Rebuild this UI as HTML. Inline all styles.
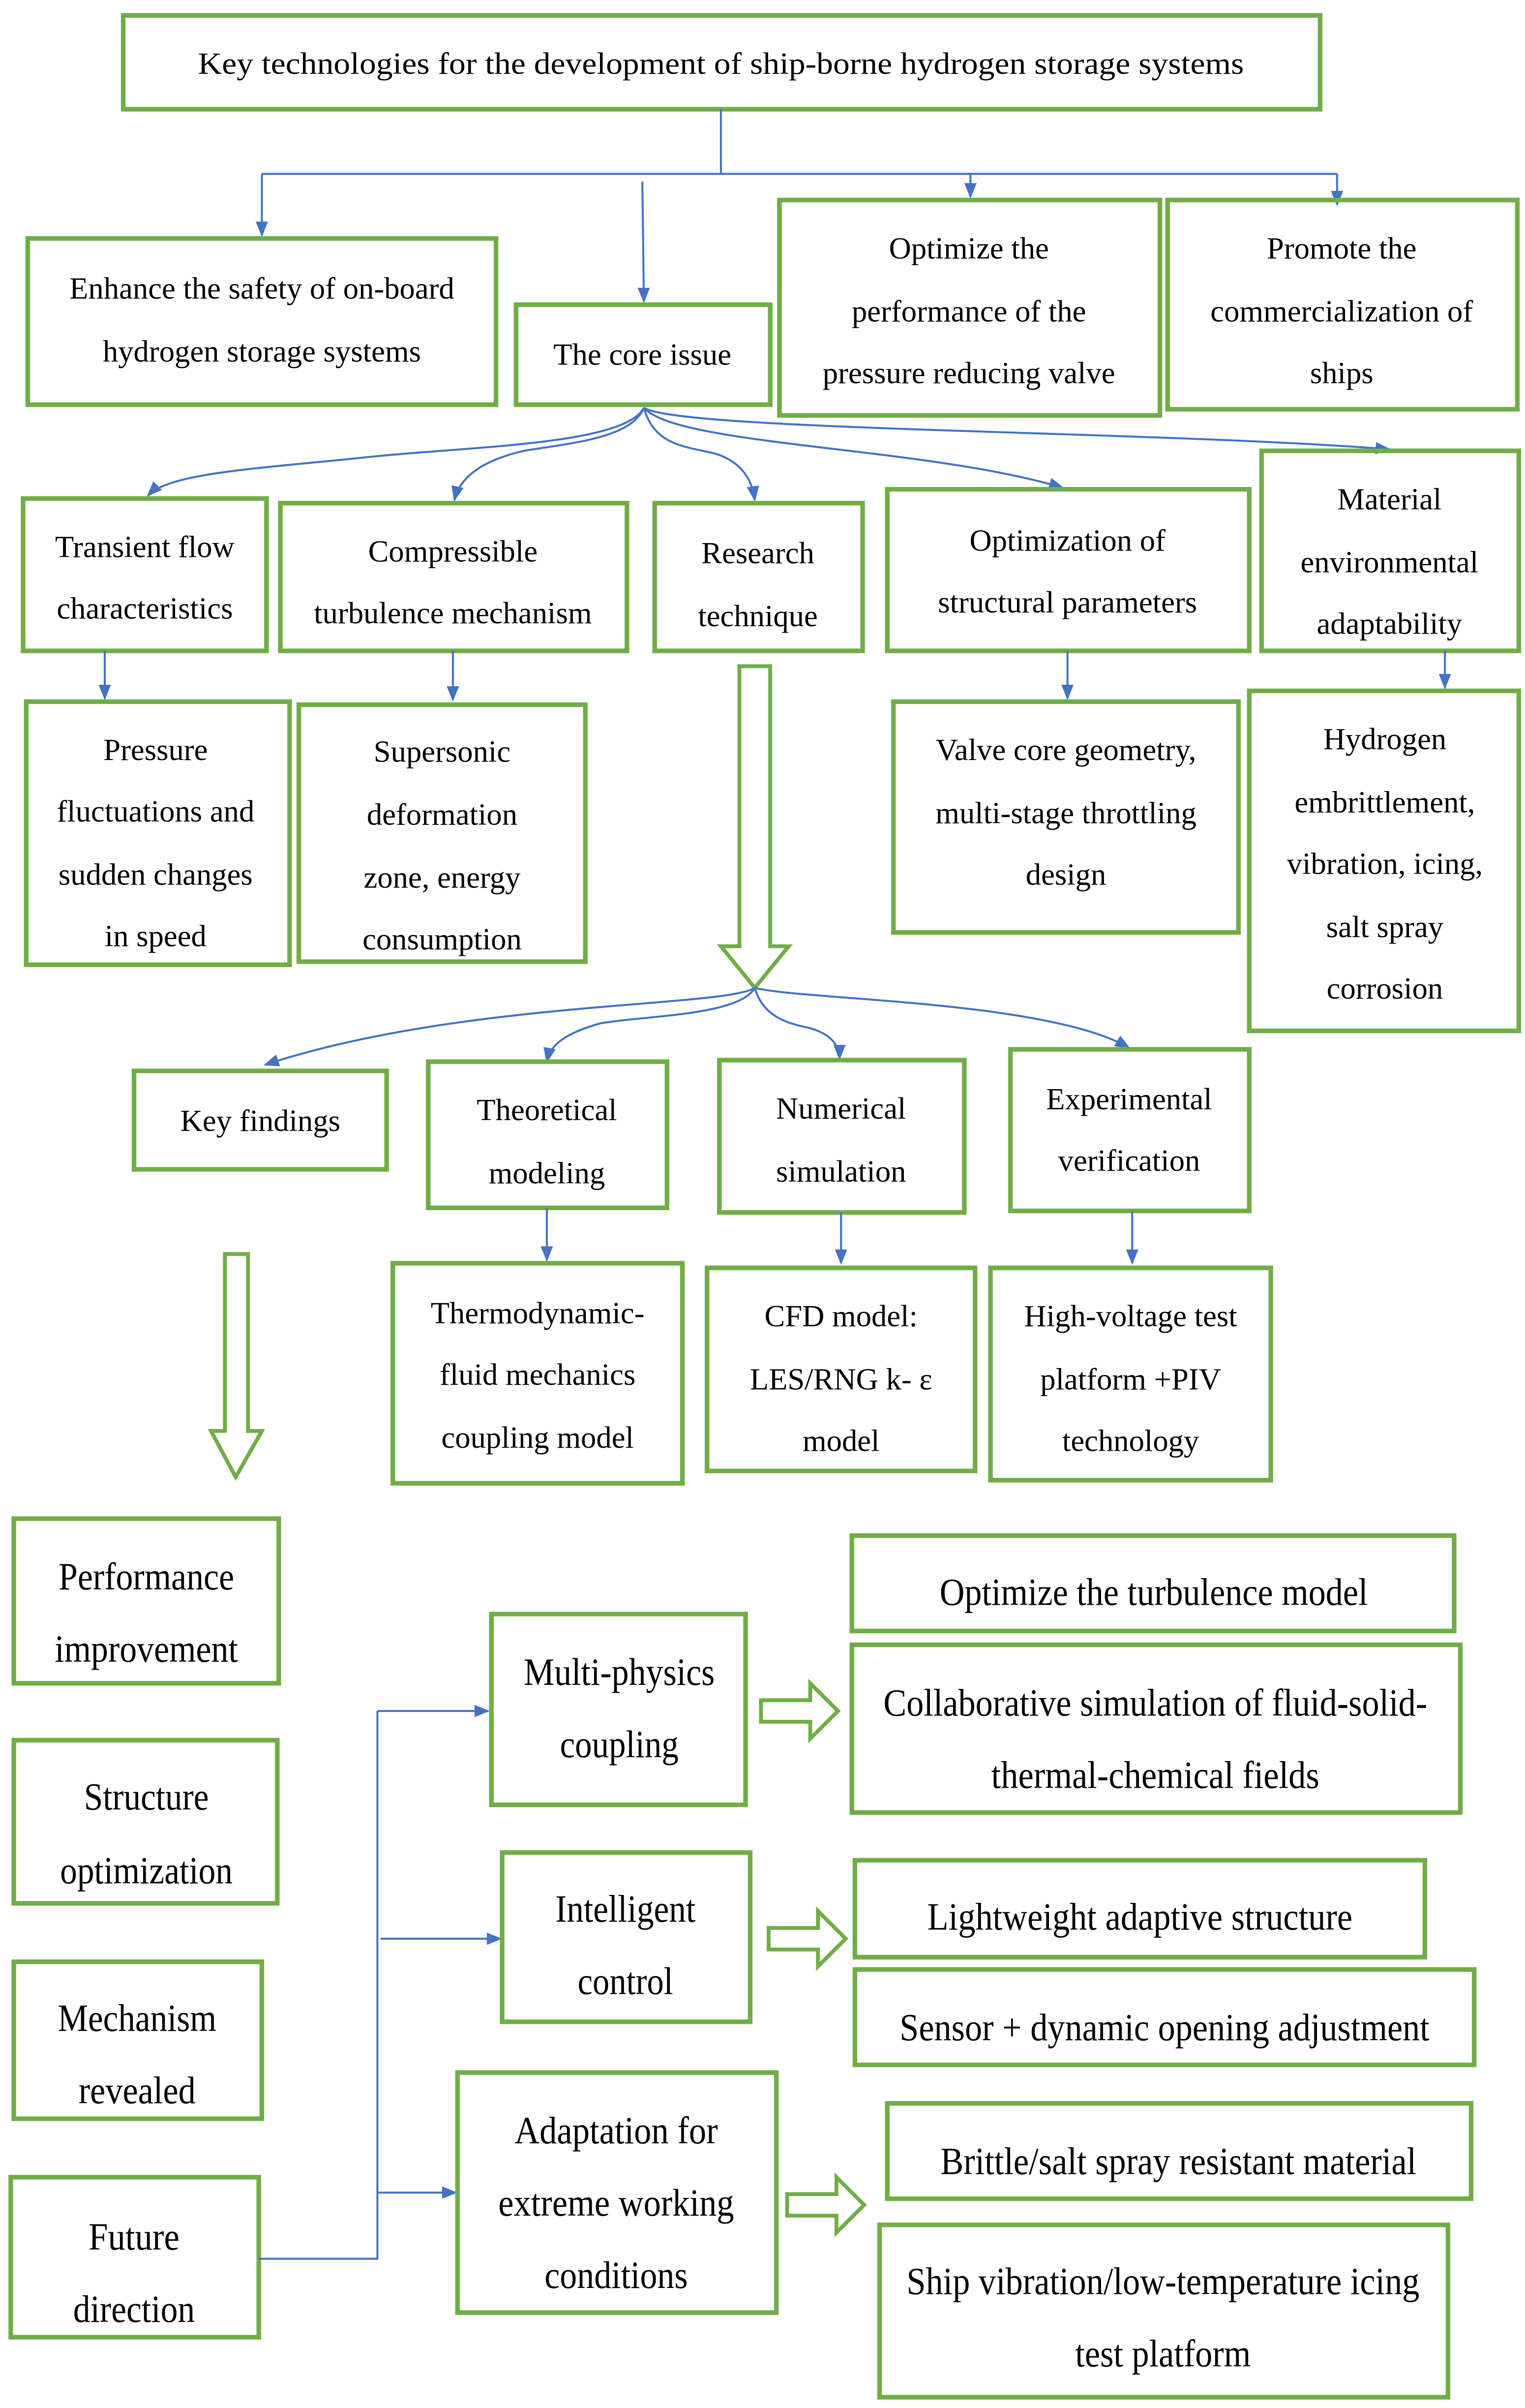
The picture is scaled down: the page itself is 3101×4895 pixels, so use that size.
<!DOCTYPE html>
<html><head><meta charset="utf-8"><style>
html,body{margin:0;padding:0;background:#fff;}
svg{display:block;}
text{font-family:"Liberation Serif",serif;fill:#000;text-anchor:middle;}
.u{font-size:20px;}
.b{font-size:25px;}
.g{fill:none;stroke:#70AD47;stroke-width:3;}
.l{fill:none;stroke:#4472C4;stroke-width:1.3;}
.h{fill:#fff;stroke:#70AD47;stroke-width:2.5;}
</style></head><body>
<svg width="3101" height="4895" viewBox="0 0 990 1565" preserveAspectRatio="none" xmlns="http://www.w3.org/2000/svg">
<defs>
<marker id="a" markerWidth="10" markerHeight="10" refX="9" refY="5" orient="auto" markerUnits="userSpaceOnUse"><path d="M0,1 L10,5 L0,9 z" fill="#4472C4"/></marker>
</defs>
<rect width="990" height="1565" fill="#fff"/>
<!-- top -->
<rect class="g" x="80" y="10" width="777" height="61"/>
<text class="u" x="468" y="48" textLength="679" lengthAdjust="spacingAndGlyphs">Key technologies for the development of ship-borne hydrogen storage systems</text>
<path class="l" d="M468,71 V113 M170,113 H868"/>
<path class="l" d="M170,113 V153" marker-end="url(#a)"/>
<path class="l" d="M417,118 L418,196" marker-end="url(#a)"/>
<path class="l" d="M630,113 V128" marker-end="url(#a)"/>
<path class="l" d="M868,113 V133" marker-end="url(#a)"/>
<rect class="g" x="18" y="155" width="304" height="108"/>
<text class="u" x="170" y="194">Enhance the safety of on-board</text>
<text class="u" x="170" y="235">hydrogen storage systems</text>
<rect class="g" x="335" y="198" width="165" height="65"/>
<text class="u" x="417" y="237">The core issue</text>
<rect class="g" x="506" y="130" width="247" height="140"/>
<text class="u" x="629" y="168">Optimize the</text>
<text class="u" x="629" y="209">performance of the</text>
<text class="u" x="629" y="249">pressure reducing valve</text>
<rect class="g" x="758" y="130" width="227" height="136"/>
<text class="u" x="871" y="168">Promote the</text>
<text class="u" x="871" y="209">commercialization of</text>
<text class="u" x="871" y="249">ships</text>
<!-- curves from core -->
<path class="l" d="M418,265 C405,290 300,290 230,298 C160,305 110,308 96,322" marker-end="url(#a)"/>
<path class="l" d="M418,265 C410,285 370,288 340,293 C310,300 298,312 295,325" marker-end="url(#a)"/>
<path class="l" d="M418,265 C425,290 445,290 465,295 C480,300 488,310 490,325" marker-end="url(#a)"/>
<path class="l" d="M418,265 C440,290 600,290 690,317" marker-end="url(#a)"/>
<path class="l" d="M418,265 C440,280 750,280 902,292" marker-end="url(#a)"/>
<!-- row2 -->
<rect class="g" x="15" y="324" width="158" height="99"/>
<text class="u" x="94" y="362">Transient flow</text>
<text class="u" x="94" y="402">characteristics</text>
<rect class="g" x="182" y="327" width="225" height="96"/>
<text class="u" x="294" y="365">Compressible</text>
<text class="u" x="294" y="405">turbulence mechanism</text>
<rect class="g" x="425" y="327" width="135" height="96"/>
<text class="u" x="492" y="366">Research</text>
<text class="u" x="492" y="407">technique</text>
<rect class="g" x="576" y="318" width="235" height="105"/>
<text class="u" x="693" y="358">Optimization of</text>
<text class="u" x="693" y="398">structural parameters</text>
<rect class="g" x="819" y="293" width="167" height="130"/>
<text class="u" x="902" y="331">Material</text>
<text class="u" x="902" y="372">environmental</text>
<text class="u" x="902" y="412">adaptability</text>
<path class="l" d="M68,423 V454" marker-end="url(#a)"/>
<path class="l" d="M294,423 V455" marker-end="url(#a)"/>
<path class="l" d="M693,423 V454" marker-end="url(#a)"/>
<path class="l" d="M938,423 V447" marker-end="url(#a)"/>
<!-- row3 -->
<rect class="g" x="17" y="456" width="171" height="171"/>
<text class="u" x="101" y="494">Pressure</text>
<text class="u" x="101" y="534">fluctuations and</text>
<text class="u" x="101" y="575">sudden changes</text>
<text class="u" x="101" y="615">in speed</text>
<rect class="g" x="194" y="458" width="186" height="167"/>
<text class="u" x="287" y="495">Supersonic</text>
<text class="u" x="287" y="536">deformation</text>
<text class="u" x="287" y="577">zone, energy</text>
<text class="u" x="287" y="617">consumption</text>
<rect class="g" x="580" y="456" width="224" height="150"/>
<text class="u" x="692" y="494">Valve core geometry,</text>
<text class="u" x="692" y="535">multi-stage throttling</text>
<text class="u" x="692" y="575">design</text>
<rect class="g" x="811" y="449" width="175" height="221"/>
<text class="u" x="899" y="487">Hydrogen</text>
<text class="u" x="899" y="528">embrittlement,</text>
<text class="u" x="899" y="568">vibration, icing,</text>
<text class="u" x="899" y="609">salt spray</text>
<text class="u" x="899" y="649">corrosion</text>
<!-- big hollow arrow -->
<path class="h" d="M480,433 H500 V615 H512 L490,642 L468,615 H480 Z"/>
<path class="l" d="M490,642 C470,655 300,650 172,692" marker-end="url(#a)"/>
<path class="l" d="M490,642 C480,660 420,660 390,665 C365,672 357,680 355,690" marker-end="url(#a)"/>
<path class="l" d="M490,642 C495,660 510,665 525,668 C540,672 545,680 545,688" marker-end="url(#a)"/>
<path class="l" d="M490,642 C520,650 680,650 733,681" marker-end="url(#a)"/>
<!-- row4 -->
<rect class="g" x="87" y="696" width="164" height="64"/>
<text class="u" x="169" y="735">Key findings</text>
<rect class="g" x="278" y="690" width="155" height="95"/>
<text class="u" x="355" y="728">Theoretical</text>
<text class="u" x="355" y="769">modeling</text>
<rect class="g" x="467" y="689" width="159" height="99"/>
<text class="u" x="546" y="727">Numerical</text>
<text class="u" x="546" y="768">simulation</text>
<rect class="g" x="656" y="682" width="155" height="105"/>
<text class="u" x="733" y="721">Experimental</text>
<text class="u" x="733" y="761">verification</text>
<path class="l" d="M355,785 V819" marker-end="url(#a)"/>
<path class="l" d="M546,788 V821" marker-end="url(#a)"/>
<path class="l" d="M735,787 V821" marker-end="url(#a)"/>
<!-- row5 -->
<rect class="g" x="255" y="821" width="188" height="143"/>
<text class="u" x="349" y="860">Thermodynamic-</text>
<text class="u" x="349" y="900">fluid mechanics</text>
<text class="u" x="349" y="941">coupling model</text>
<rect class="g" x="459" y="824" width="174" height="132"/>
<text class="u" x="546" y="862">CFD model:</text>
<text class="u" x="546" y="903">LES/RNG k- ε</text>
<text class="u" x="546" y="943">model</text>
<rect class="g" x="643" y="824" width="182" height="138"/>
<text class="u" x="734" y="862">High-voltage test</text>
<text class="u" x="734" y="903">platform +PIV</text>
<text class="u" x="734" y="943">technology</text>
<!-- left hollow arrow -->
<path class="h" d="M146,815 H161 V930 H170 L153,960 L137,930 H146 Z"/>
<!-- bottom left -->
<rect class="g" x="9" y="987" width="172" height="107"/>
<text class="b" x="95" y="1033" textLength="114" lengthAdjust="spacingAndGlyphs">Performance</text>
<text class="b" x="95" y="1080" textLength="119" lengthAdjust="spacingAndGlyphs">improvement</text>
<rect class="g" x="9" y="1131" width="171" height="106"/>
<text class="b" x="95" y="1176" textLength="81" lengthAdjust="spacingAndGlyphs">Structure</text>
<text class="b" x="95" y="1224" textLength="112" lengthAdjust="spacingAndGlyphs">optimization</text>
<rect class="g" x="9" y="1275" width="161" height="102"/>
<text class="b" x="89" y="1320" textLength="103" lengthAdjust="spacingAndGlyphs">Mechanism</text>
<text class="b" x="89" y="1367" textLength="76" lengthAdjust="spacingAndGlyphs">revealed</text>
<rect class="g" x="7" y="1415" width="161" height="104"/>
<text class="b" x="87" y="1462" textLength="59" lengthAdjust="spacingAndGlyphs">Future</text>
<text class="b" x="87" y="1509" textLength="79" lengthAdjust="spacingAndGlyphs">direction</text>
<path class="l" d="M168,1468 H245 V1112"/>
<path class="l" d="M245,1112 H317" marker-end="url(#a)"/>
<path class="l" d="M247,1260 H325" marker-end="url(#a)"/>
<path class="l" d="M245,1425 H296" marker-end="url(#a)"/>
<!-- bottom middle -->
<rect class="g" x="319" y="1049" width="165" height="124"/>
<text class="b" x="402" y="1095" textLength="124" lengthAdjust="spacingAndGlyphs">Multi-physics</text>
<text class="b" x="402" y="1142" textLength="77" lengthAdjust="spacingAndGlyphs">coupling</text>
<rect class="g" x="326" y="1204" width="161" height="110"/>
<text class="b" x="406" y="1249" textLength="91" lengthAdjust="spacingAndGlyphs">Intelligent</text>
<text class="b" x="406" y="1296" textLength="62" lengthAdjust="spacingAndGlyphs">control</text>
<rect class="g" x="297" y="1347" width="207" height="156"/>
<text class="b" x="400" y="1393" textLength="132" lengthAdjust="spacingAndGlyphs">Adaptation for</text>
<text class="b" x="400" y="1440" textLength="153" lengthAdjust="spacingAndGlyphs">extreme working</text>
<text class="b" x="400" y="1487" textLength="93" lengthAdjust="spacingAndGlyphs">conditions</text>
<!-- hollow right arrows -->
<path class="h" d="M494,1105 H526 V1094 L544,1112 L526,1130 V1119 H494 Z"/>
<path class="h" d="M499,1253 H531 V1242 L549,1260 L531,1278 V1267 H499 Z"/>
<path class="h" d="M511,1426 H543 V1415 L561,1433 L543,1451 V1440 H511 Z"/>
<!-- bottom right -->
<rect class="g" x="553" y="998" width="391" height="62"/>
<text class="b" x="749" y="1043" textLength="278" lengthAdjust="spacingAndGlyphs">Optimize the turbulence model</text>
<rect class="g" x="553" y="1069" width="395" height="109"/>
<text class="b" x="750" y="1115" textLength="353" lengthAdjust="spacingAndGlyphs">Collaborative simulation of fluid-solid-</text>
<text class="b" x="750" y="1162" textLength="213" lengthAdjust="spacingAndGlyphs">thermal-chemical  fields</text>
<rect class="g" x="555" y="1209" width="370" height="63"/>
<text class="b" x="740" y="1254" textLength="276" lengthAdjust="spacingAndGlyphs">Lightweight adaptive structure</text>
<rect class="g" x="555" y="1280" width="402" height="62"/>
<text class="b" x="756" y="1326" textLength="344" lengthAdjust="spacingAndGlyphs">Sensor + dynamic opening adjustment</text>
<rect class="g" x="576" y="1367" width="379" height="62"/>
<text class="b" x="765" y="1413" textLength="309" lengthAdjust="spacingAndGlyphs">Brittle/salt spray resistant material</text>
<rect class="g" x="571" y="1446" width="369" height="112"/>
<text class="b" x="755" y="1491" textLength="333" lengthAdjust="spacingAndGlyphs">Ship vibration/low-temperature  icing</text>
<text class="b" x="755" y="1538" textLength="114" lengthAdjust="spacingAndGlyphs">test platform</text>
</svg>
</body></html>
